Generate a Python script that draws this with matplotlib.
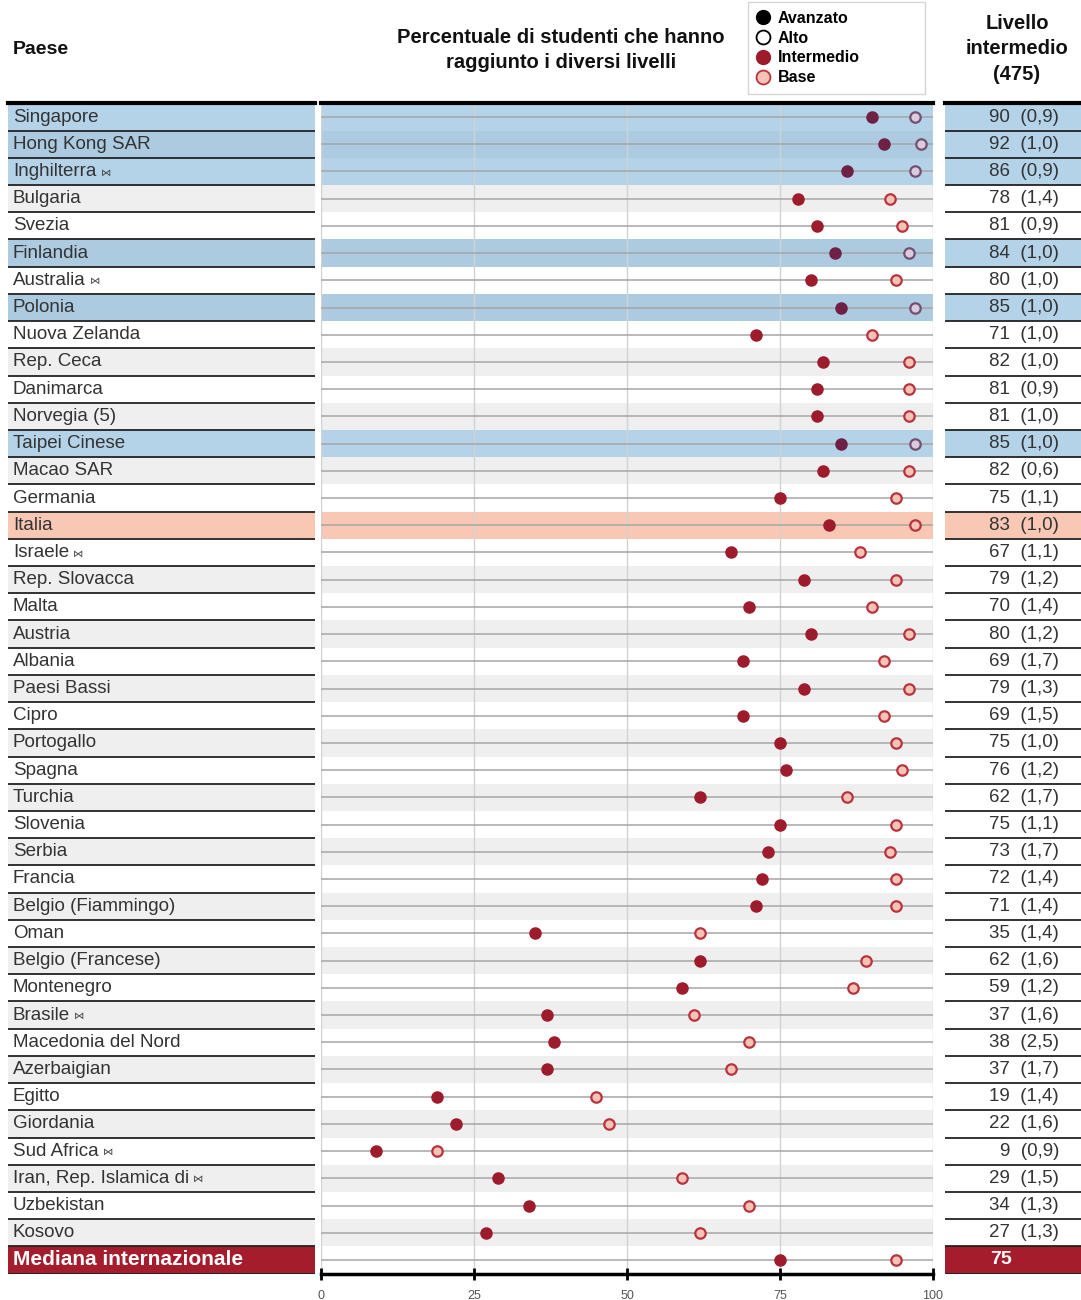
import matplotlib
matplotlib.use('Agg')
import matplotlib.pyplot as plt
from matplotlib.lines import Line2D

plt.rcParams['font.family'] = ['Liberation Sans', 'DejaVu Sans']

# data
paesi = ['Singapore', 'Hong Kong SAR', 'Inghilterra ⋈', 'Bulgaria', 'Svezia', 'Finlandia',
         'Australia ⋈', 'Polonia', 'Nuova Zelanda', 'Rep. Ceca', 'Danimarca', 'Norvegia (5)',
         'Taipei Cinese', 'Macao SAR', 'Germania', 'Italia', 'Israele ⋈', 'Rep. Slovacca',
         'Malta', 'Austria', 'Albania', 'Paesi Bassi', 'Cipro', 'Portogallo', 'Spagna',
         'Turchia', 'Slovenia', 'Serbia', 'Francia', 'Belgio (Fiammingo)', 'Oman',
         'Belgio (Francese)', 'Montenegro', 'Brasile ⋈', 'Macedonia del Nord', 'Azerbaigian',
         'Egitto', 'Giordania', 'Sud Africa ⋈', 'Iran, Rep. Islamica di ⋈', 'Uzbekistan',
         'Kosovo', 'Mediana internazionale']
intermedio = [90, 92, 86, 78, 81, 84, 80, 85, 71, 82, 81, 81, 85, 82, 75, 83, 67, 79, 70, 80,
              69, 79, 69, 75, 76, 62, 75, 73, 72, 71, 35, 62, 59, 37, 38, 37, 19, 22, 9, 29,
              34, 27, 75]
base = [97, 98, 97, 93, 95, 96, 94, 97, 90, 96, 96, 96, 97, 96, 94, 97, 88, 94, 90, 96,
        92, 96, 92, 94, 95, 86, 94, 93, 94, 94, 62, 89, 87, 61, 70, 67, 45, 47, 19, 59,
        70, 62, 94]
errore = ['0,9', '1,0', '0,9', '1,4', '0,9', '1,0', '1,0', '1,0', '1,0', '1,0', '0,9', '1,0',
          '1,0', '0,6', '1,1', '1,0', '1,1', '1,2', '1,4', '1,2', '1,7', '1,3', '1,5', '1,0',
          '1,2', '1,7', '1,1', '1,7', '1,4', '1,4', '1,4', '1,6', '1,2', '1,6', '2,5', '1,7',
          '1,4', '1,6', '0,9', '1,5', '1,3', '1,3', None]
evidenziati = ['Singapore', 'Hong Kong SAR', 'Inghilterra ⋈', 'Finlandia', 'Polonia', 'Taipei Cinese']
italia = 'Italia'
mediana = 'Mediana internazionale'
ticks = [0, 25, 50, 75, 100]

W, H = 1081, 1300
ROW_TOP, ROW_BOT = 103.4, 1273.6
n = len(paesi)

RED = '#9e1b2c'
PINK = '#f8c3b4'
PINK_EDGE = '#b7343f'
BLUE = (0.42, 0.66, 0.83)
ORANGE = '#f8c8b5'
STRIPE = '#efefef'


def rect(x0, x1):
    return [x0 / W, (H - ROW_BOT) / H, (x1 - x0) / W, (ROW_BOT - ROW_TOP) / H]


fig = plt.figure(figsize=(W / 100, H / 100), dpi=100)
ax_lab = fig.add_axes(rect(8, 315))
ax = fig.add_axes(rect(321, 933))
ax_val = fig.add_axes(rect(945, 1081))

for a in (ax_lab, ax, ax_val):
    a.set_ylim(n - 0.5, -0.5)
for a in (ax_lab, ax_val):
    a.set_xlim(0, 1)
    a.axis('off')
ax.set_xlim(0, 100)

ys = list(range(n))

# background bands
for i, p in enumerate(paesi):
    if i % 2 == 1:
        ax_lab.axhspan(i - 0.5, i + 0.5, color=STRIPE, lw=0, zorder=0)
        ax.axhspan(i - 0.5, i + 0.5, color=STRIPE, lw=0, zorder=0)
    if p in evidenziati:
        for a in (ax_lab, ax, ax_val):
            a.axhspan(i - 0.5, i + 0.5, color=BLUE, alpha=0.5, lw=0, zorder=0.5)
    if p == italia:
        for a in (ax_lab, ax, ax_val):
            a.axhspan(i - 0.5, i + 0.5, color=ORANGE, lw=0, zorder=0.5)
    if p == mediana:
        for a in (ax_lab, ax_val):
            a.axhspan(i - 0.5, i + 0.5, color='#a51c2c', lw=0, zorder=0.5)

# separators in side columns
for a in (ax_lab, ax_val):
    for i in ys:
        a.axhline(i + 0.5, color='#222222', lw=1.3, zorder=2)
    a.axhline(-0.5, color='black', lw=3, zorder=3, clip_on=False)
ax.axhline(-0.5, color='black', lw=3, zorder=3, clip_on=False)

# grid and row lines
for t in ticks:
    ax.axvline(t, color='#d2d2d2', lw=1, zorder=1)
ax.hlines(ys, 0, 100, color='#a6a6a6', lw=1.1, zorder=2)

# markers
norm = [i for i, p in enumerate(paesi) if p not in evidenziati]
hil = [i for i, p in enumerate(paesi) if p in evidenziati]
ax.plot([base[i] for i in norm], norm, 'o', ms=7.5, mfc=PINK, mec=PINK_EDGE, mew=1.6, ls='none', zorder=3)
ax.plot([intermedio[i] for i in norm], norm, 'o', ms=8, color=RED, ls='none', zorder=4)
ax.plot([base[i] for i in hil], hil, 'o', ms=7.5, mfc='#dccbdc', mec='#735070', mew=1.6, ls='none', zorder=3)
ax.plot([intermedio[i] for i in hil], hil, 'o', ms=8, color='#6e2045', ls='none', zorder=4)

# axis styling
for s in ('top', 'right', 'left'):
    ax.spines[s].set_visible(False)
ax.spines['bottom'].set_linewidth(2.5)
ax.spines['bottom'].set_zorder(5)
ax.set_yticks([])
ax.set_xticks(ticks)
ax.tick_params(axis='x', direction='inout', length=9, width=2, pad=7,
               labelsize=9, labelcolor='#555555')

# labels and values
for i, p in enumerate(paesi):
    if p == mediana:
        ax_lab.text(0.016, i, p, va='center', ha='left', fontsize=15, fontweight='bold',
                    color='white', zorder=4)
        ax_val.text(0.33, i, str(intermedio[i]), va='center', ha='left', fontsize=14,
                    fontweight='bold', color='white', zorder=4)
        continue
    name = p.replace(' ⋈', '')
    t = ax_lab.text(0.016, i, name, va='center', ha='left', fontsize=13.5, color='#333333', zorder=4)
    if p.endswith('⋈'):
        ax_lab.annotate('⋈', xy=(1, 0.45), xycoords=t, xytext=(3, 0), textcoords='offset points',
                        va='center', ha='left', fontsize=7.5, color='#444444',
                        family=['DejaVu Sans'], zorder=4)
    ax_val.text(0.838, i, f'{intermedio[i]}  ({errore[i]})', va='center', ha='right',
                fontsize=13.5, color='#333333', zorder=4)

# headers
fig.text(13 / W, 1 - 49 / H, 'Paese', ha='left', va='center', fontsize=14, fontweight='bold',
         color='#111111')
fig.text(561 / W, 1 - 50 / H, 'Percentuale di studenti che hanno\nraggiunto i diversi livelli',
         ha='center', va='center', fontsize=14.5, fontweight='bold', color='#111111',
         linespacing=1.45)
fig.text(1017 / W, 1 - 49 / H, 'Livello\nintermedio\n(475)', ha='center', va='center',
         fontsize=14.5, fontweight='bold', color='#111111', linespacing=1.45)

handles = [
    Line2D([], [], marker='o', ls='none', ms=10, color='black'),
    Line2D([], [], marker='o', ls='none', ms=10, mfc='white', mec='black', mew=1.3),
    Line2D([], [], marker='o', ls='none', ms=10, color=RED),
    Line2D([], [], marker='o', ls='none', ms=10, mfc=PINK, mec=PINK_EDGE, mew=1.3),
]
leg = fig.legend(handles, ['Avanzato', 'Alto', 'Intermedio', 'Base'], loc='upper left',
                 bbox_to_anchor=(748 / W, 1 - 97 / H, 177 / W, 95 / H), mode='expand',
                 frameon=True, fancybox=False,
                 edgecolor='#cccccc', prop={'weight': 'bold', 'size': 11.5},
                 handlelength=0.8, handletextpad=0.5, labelspacing=0.3,
                 borderpad=0.55, borderaxespad=0)
leg.get_frame().set_linewidth(1)

fig.savefig('out.png', dpi=100)
